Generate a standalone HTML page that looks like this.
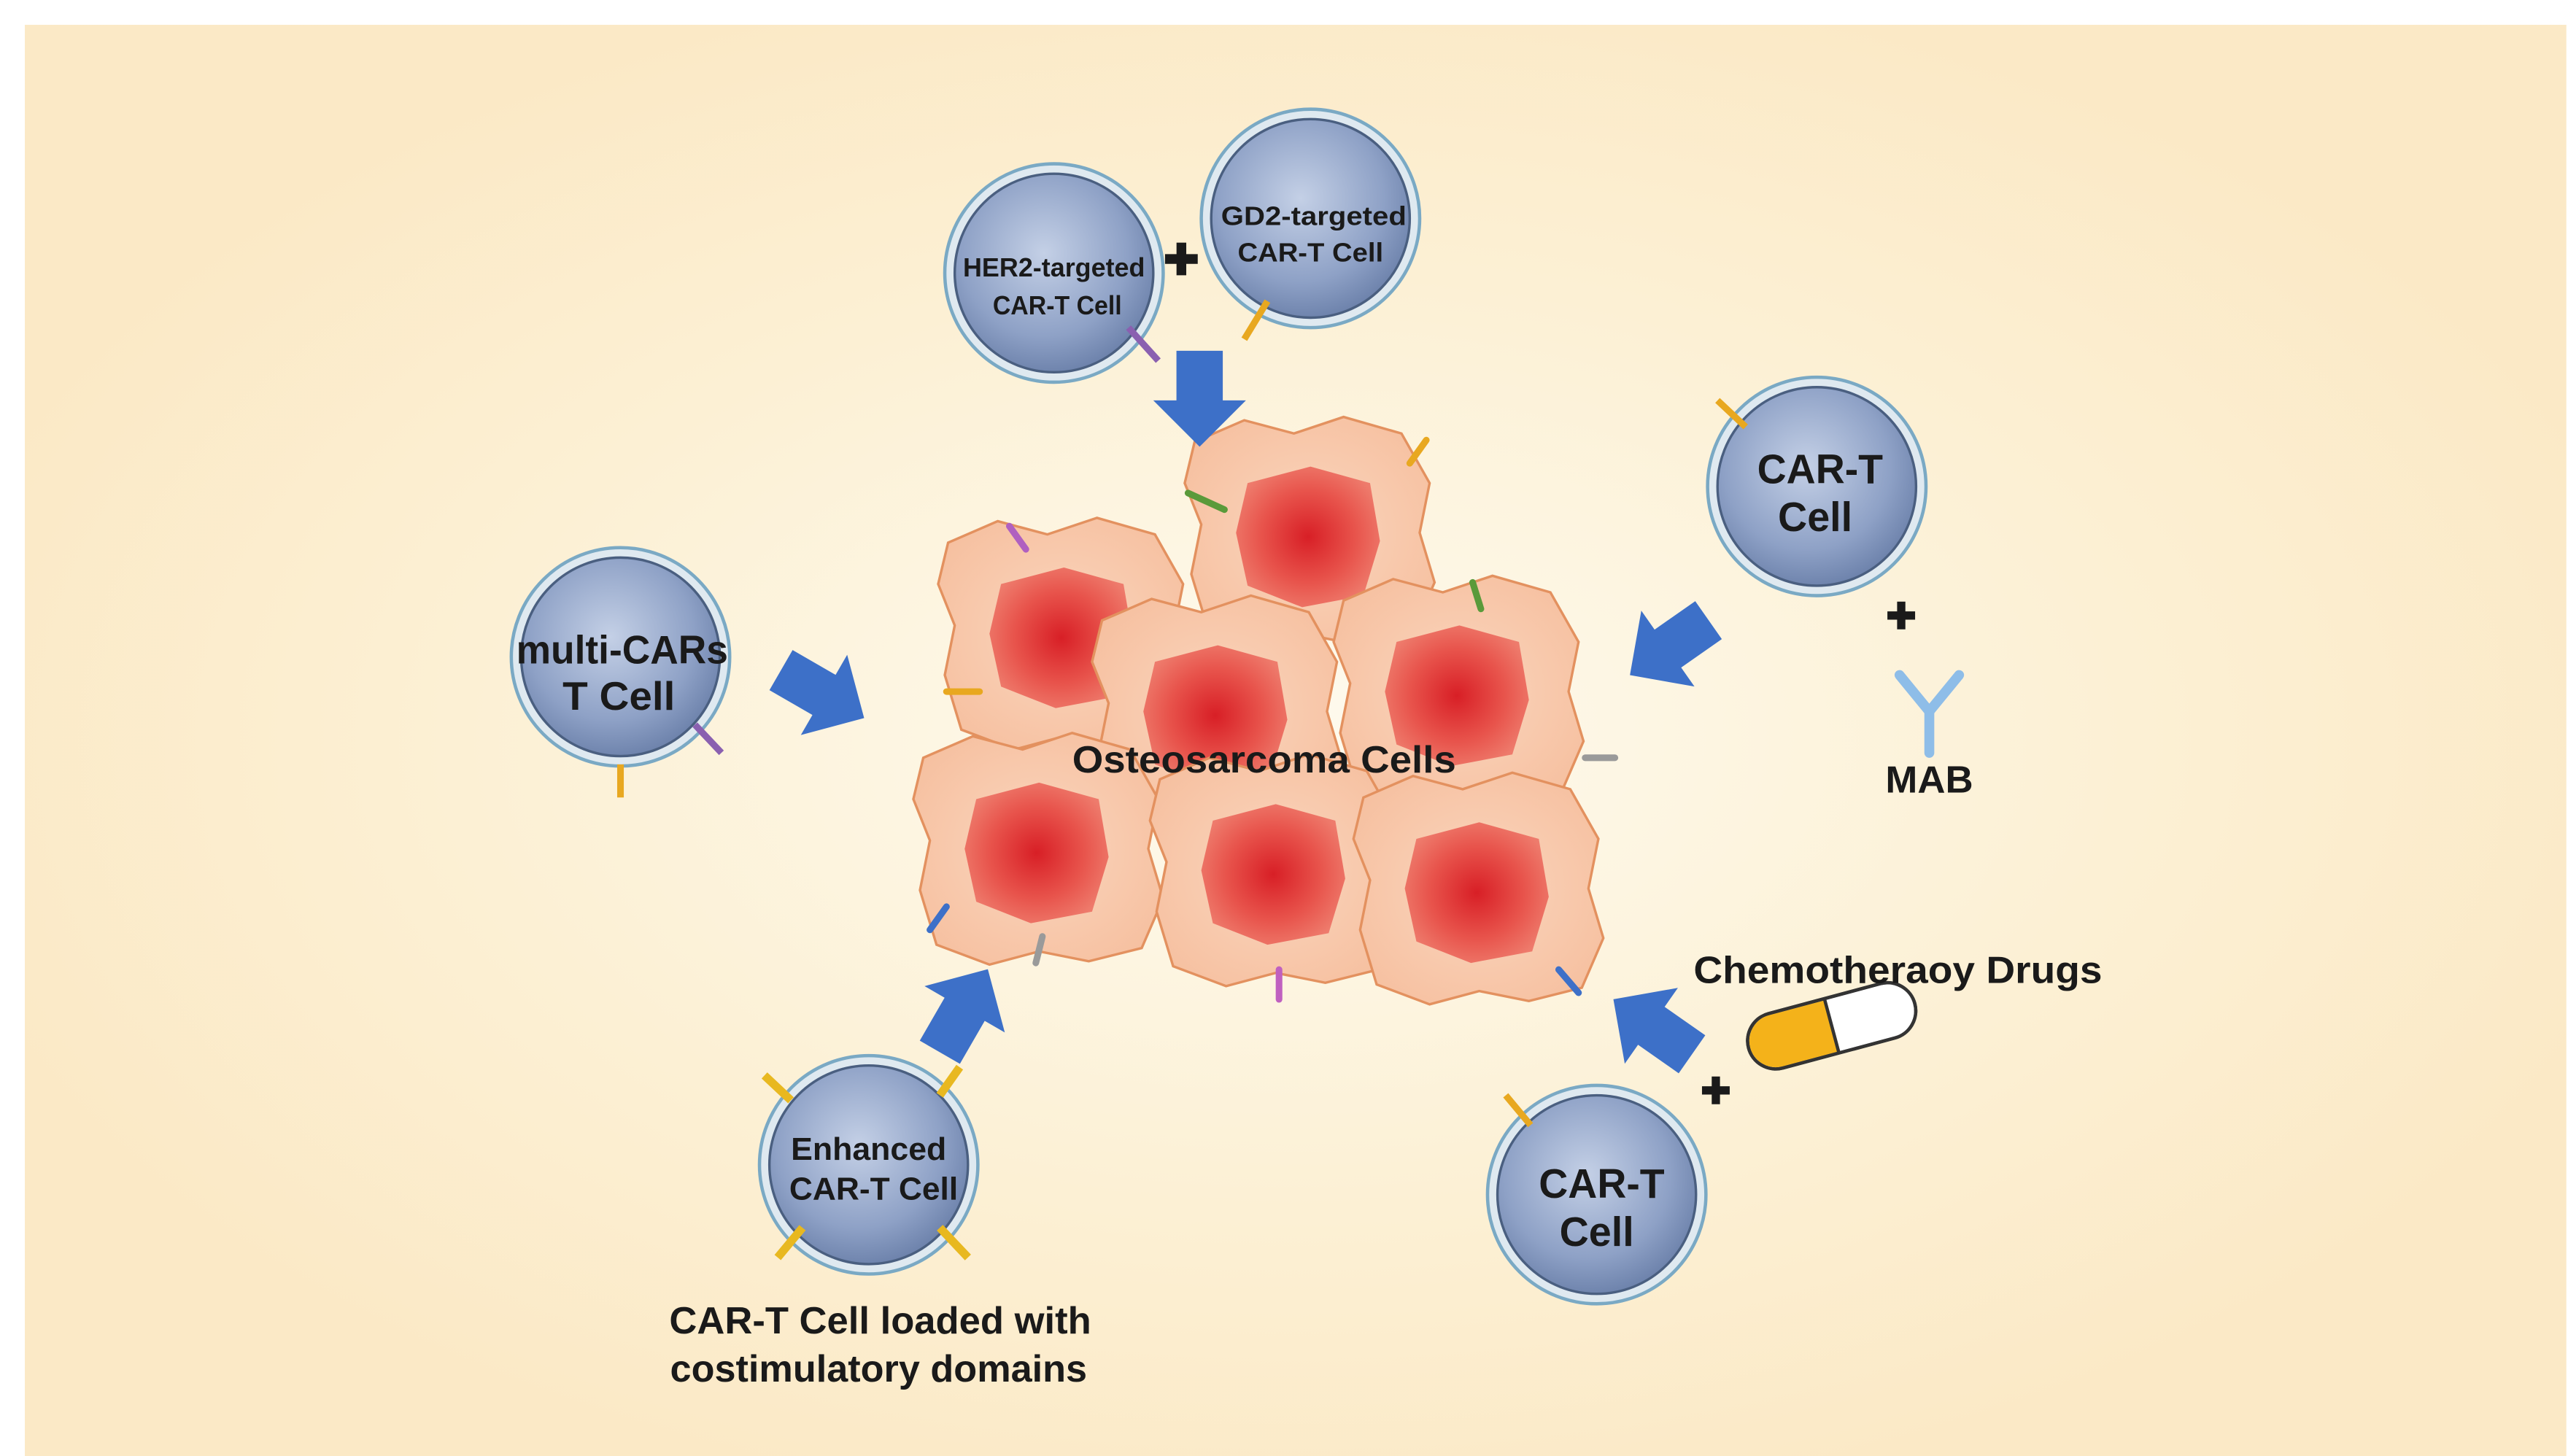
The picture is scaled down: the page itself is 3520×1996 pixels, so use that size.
<!DOCTYPE html>
<html><head><meta charset="utf-8"><style>
html,body{margin:0;padding:0;background:#fff}
svg{display:block}
text{font-family:"Liberation Sans",sans-serif;font-weight:bold;fill:#1a1a1a;text-anchor:middle}
</style></head><body>
<svg width="3520" height="1996" viewBox="0 0 1552 880" preserveAspectRatio="none" xmlns="http://www.w3.org/2000/svg">
<defs>
<radialGradient id="bg" cx="0.5" cy="0.5" r="0.55">
<stop offset="0" stop-color="#fefaee"/><stop offset="0.6" stop-color="#fcf0d4"/><stop offset="1" stop-color="#fbe9c6"/></radialGradient>
<radialGradient id="tc" cx="0.45" cy="0.4" r="0.6">
<stop offset="0" stop-color="#c4d0e6"/><stop offset="0.7" stop-color="#8ea1c6"/><stop offset="1" stop-color="#6f84ad"/></radialGradient>
<radialGradient id="nuc" cx="0.5" cy="0.5" r="0.55">
<stop offset="0" stop-color="#d81f26"/><stop offset="0.6" stop-color="#e8544c"/><stop offset="1" stop-color="#ee7b6c"/></radialGradient>
<radialGradient id="cyt" cx="0.5" cy="0.5" r="0.6">
<stop offset="0" stop-color="#fbd6be"/><stop offset="1" stop-color="#f6c0a0"/></radialGradient>
<g id="tcell"><circle r="66" fill="#dfe9f0" stroke="#7aa9c4" stroke-width="2"/><circle r="60" fill="url(#tc)" stroke="#4a5f80" stroke-width="1.5"/></g>
<g id="tum"><path d="M-70,-55 L-40,-68 L-10,-60 L20,-70 L55,-60 L72,-30 L66,0 L75,30 L62,60 L30,68 L0,62 L-30,70 L-62,58 L-72,25 L-66,-5 L-76,-30 Z" fill="url(#cyt)" stroke="#e3915f" stroke-width="1.5"/>
<path d="M-38,-30 L0,-40 L36,-30 L42,5 L32,38 L-5,45 L-38,32 L-45,0 Z" fill="url(#nuc)"/></g>
<g id="arr"><path d="M-14,-30 L14,-30 L14,0 L28,0 L0,28 L-28,0 L-14,0 Z" fill="#3d70c8"/></g>
</defs>
<rect x="15" y="15" width="1536" height="865" fill="url(#bg)"/>
<use href="#tum" x="643" y="383"/>
<use href="#tum" x="792" y="322"/>
<use href="#tum" x="882" y="418"/>
<use href="#tum" x="736" y="430"/>
<use href="#tum" x="628" y="513"/>
<use href="#tum" x="771" y="526"/>
<use href="#tum" x="894" y="537"/>
<text x="764" y="467" font-size="23" textLength="232" lengthAdjust="spacingAndGlyphs">Osteosarcoma Cells</text>
<g stroke-width="4" stroke-linecap="round" fill="none">
<path d="M610,318 L620,332" stroke="#b060c0"/><path d="M718,298 L740,308" stroke="#5a9a3a"/>
<path d="M852,280 L862,266" stroke="#e8a820"/><path d="M890,352 L895,368" stroke="#5a9a3a"/>
<path d="M572,418 L592,418" stroke="#e8a820"/><path d="M958,458 L976,458" stroke="#9a9a9a"/>
<path d="M562,562 L572,548" stroke="#3d70c8"/><path d="M626,582 L630,566" stroke="#9a9a9a"/>
<path d="M773,604 L773,586" stroke="#c060c0"/><path d="M954,600 L942,586" stroke="#3d70c8"/>
</g>
<use href="#arr" transform="translate(725,242)"/>
<use href="#arr" transform="translate(498,420) rotate(-60)"/>
<use href="#arr" transform="translate(1008,392) rotate(55)"/>
<use href="#arr" transform="translate(583,610) rotate(-150)"/>
<use href="#arr" transform="translate(998,620) rotate(125)"/>
<use href="#tcell" x="637" y="165"/>
<use href="#tcell" x="792" y="132"/>
<text x="637" y="167" font-size="16" textLength="110" lengthAdjust="spacingAndGlyphs">HER2-targeted</text><text x="639" y="190" font-size="16" textLength="78" lengthAdjust="spacingAndGlyphs">CAR-T Cell</text>
<text x="794" y="136" font-size="16" textLength="112" lengthAdjust="spacingAndGlyphs">GD2-targeted</text><text x="792" y="158" font-size="16" textLength="88" lengthAdjust="spacingAndGlyphs">CAR-T Cell</text>
<text x="714" y="166" font-size="26">✚</text>
<path d="M682,198 L700,218" stroke="#8a60b0" stroke-width="4"/><path d="M766,182 L752,205" stroke="#e8a820" stroke-width="4"/>
<use href="#tcell" x="375" y="397"/>
<text x="376" y="401" font-size="24" textLength="128" lengthAdjust="spacingAndGlyphs">multi-CARs</text><text x="374" y="429" font-size="24" textLength="68" lengthAdjust="spacingAndGlyphs">T Cell</text>
<path d="M375,462 L375,482" stroke="#e8a820" stroke-width="4"/><path d="M420,438 L436,455" stroke="#8a60b0" stroke-width="4"/>
<use href="#tcell" x="1098" y="294"/>
<text x="1100" y="292" font-size="25" textLength="76" lengthAdjust="spacingAndGlyphs">CAR-T</text><text x="1097" y="321" font-size="25" textLength="45" lengthAdjust="spacingAndGlyphs">Cell</text>
<path d="M1055,258 L1038,242" stroke="#e8a820" stroke-width="4"/>
<text x="1149" y="380" font-size="22">✚</text>
<g stroke="#8ebde8" stroke-width="6" stroke-linecap="round" fill="none"><path d="M1166,455 L1166,430 L1148,408"/><path d="M1166,430 L1184,408"/></g>
<text x="1166" y="479" font-size="23" textLength="53" lengthAdjust="spacingAndGlyphs">MAB</text>
<use href="#tcell" x="525" y="704"/>
<text x="525" y="701" font-size="19" textLength="94" lengthAdjust="spacingAndGlyphs">Enhanced</text><text x="528" y="725" font-size="19" textLength="102" lengthAdjust="spacingAndGlyphs">CAR-T Cell</text>
<g stroke="#e8b820" stroke-width="5"><path d="M478,665 L462,650"/><path d="M568,662 L580,645"/><path d="M485,742 L470,760"/><path d="M568,742 L585,760"/></g>
<text x="532" y="806" font-size="23" textLength="255" lengthAdjust="spacingAndGlyphs">CAR-T Cell loaded with</text><text x="531" y="835" font-size="23" textLength="252" lengthAdjust="spacingAndGlyphs">costimulatory domains</text>
<use href="#tcell" x="965" y="722"/>
<text x="968" y="724" font-size="25" textLength="76" lengthAdjust="spacingAndGlyphs">CAR-T</text><text x="965" y="753" font-size="25" textLength="45" lengthAdjust="spacingAndGlyphs">Cell</text>
<path d="M925,680 L910,662" stroke="#e8a820" stroke-width="4"/>
<text x="1037" y="667" font-size="22">✚</text>
<g transform="translate(1107,620) rotate(-15)"><rect x="-52" y="-17" width="104" height="34" rx="17" fill="#fff" stroke="#333" stroke-width="2"/><path d="M0,-16 L-35,-16 A16,16 0 0 0 -35,16 L0,16 Z" fill="#f4b21a"/><rect x="-52" y="-17" width="104" height="34" rx="17" fill="none" stroke="#333" stroke-width="2"/><line x1="0" y1="-17" x2="0" y2="17" stroke="#333" stroke-width="2"/></g>
<text x="1147" y="594" font-size="23" textLength="247" lengthAdjust="spacingAndGlyphs">Chemotheraoy Drugs</text>
</svg>
</body></html>
